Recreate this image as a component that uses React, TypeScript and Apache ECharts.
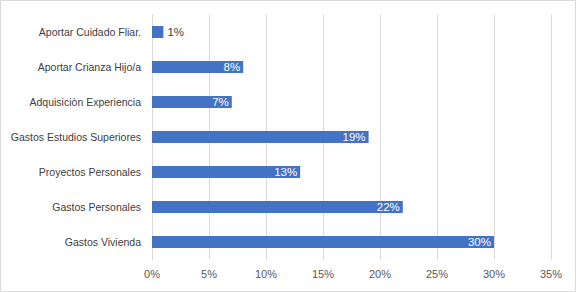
import React, { useEffect, useRef } from "react";
import * as echarts from "echarts";

const categories = [
  "Aportar Cuidado Fliar.",
  "Aportar Crianza Hijo/a",
  "Adquisiciòn Experiencia",
  "Gastos Estudios Superiores",
  "Proyectos Personales",
  "Gastos Personales",
  "Gastos Vivienda",
];
const values = [1, 8, 7, 19, 13, 22, 30];
const xTicks = [0, 5, 10, 15, 20, 25, 30, 35];

export default function App() {
  const ref = useRef<HTMLDivElement>(null);
  useEffect(() => {
    document.body.style.margin = "0";
    const chart = echarts.init(ref.current!, null, { renderer: "svg" });
    const font = "'Liberation Sans', Arial, sans-serif";
    chart.setOption({
      animation: false,
      textStyle: { fontFamily: font },
      grid: { left: 152, right: 25, top: 14.5, bottom: 32.5, containLabel: false },
      xAxis: {
        type: "value",
        min: xTicks[0],
        max: xTicks[xTicks.length - 1],
        interval: 5,
        axisLine: { show: false },
        axisTick: { show: false },
        splitLine: { show: true, lineStyle: { color: "#d9d9d9", width: 1 } },
        axisLabel: {
          formatter: (v: number) => v + "%",
          color: "#595959",
          fontSize: 11,
          fontFamily: font,
          margin: 9,
        },
      },
      yAxis: {
        type: "category",
        data: categories,
        inverse: true,
        axisLine: { show: true, lineStyle: { color: "#d9d9d9" } },
        axisTick: { show: false },
        axisLabel: { color: "#404040", fontSize: 10.5, fontFamily: font, margin: 11 },
      },
      series: [
        {
          type: "bar",
          barWidth: 12,
          data: values.map((v) => ({
            value: v,
            label:
              v < 3
                ? { position: "right", color: "#404040", distance: 4 }
                : { position: "insideRight", color: "#ffffff", distance: 3 },
          })),
          itemStyle: { color: "#4472c4" },
          label: {
            show: true,
            formatter: (p: any) => p.value + "%",
            fontSize: 11.5,
            fontFamily: font,
          },
        },
      ],
      graphic: [
        {
          type: "rect",
          shape: { x: 0.5, y: 0.5, width: 575, height: 291 },
          style: { fill: "none", stroke: "#d9d9d9", lineWidth: 1 },
          silent: true,
        },
      ],
    });
    return () => chart.dispose();
  }, []);
  return <div ref={ref} style={{ width: 576, height: 292 }} />;
}
